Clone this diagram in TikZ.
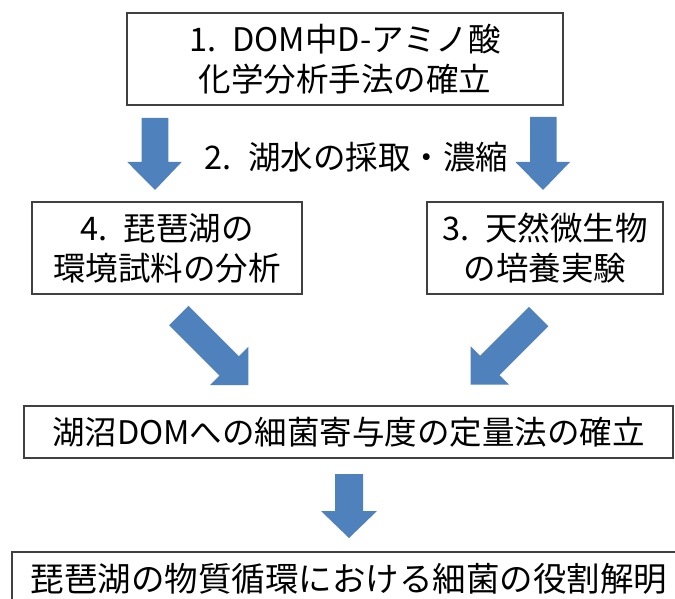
\documentclass[tikz,border=0pt]{standalone}
\usepackage{fontspec}
\newfontfamily\jpfont{Noto Sans CJK JP}
\definecolor{arrowblue}{HTML}{4F81BD}
\newcommand\gap{\hspace{0.5em}}
\begin{document}
\begin{tikzpicture}[x=1pt,y=-1pt,
  box/.style={draw=black!75, line width=1.2pt, fill=white, inner sep=0pt, align=center,
    font=\jpfont\fontsize{32.5}{40}\selectfont},
  plain/.style={inner sep=0pt, font=\jpfont\fontsize{32.5}{40}\selectfont},
  blockarrow/.style={fill=arrowblue}]
\useasboundingbox (0,0) rectangle (675,599);
\clip (0,0) rectangle (675,599);
\fill[white] (0,0) rectangle (675,599);

% boxes
\node[box, minimum width=436pt, minimum height=92pt] (method) at (345,59)
  {1.\gap DOM中D-アミノ酸\\化学分析手法の確立};
\node[plain] (sampling) at (356.5,157) {2.\gap 湖水の採取・濃縮};
\node[box, minimum width=270pt, minimum height=92pt] (field) at (167,248)
  {4.\gap 琵琶湖の\\環境試料の分析};
\node[box, minimum width=236pt, minimum height=92pt] (culture) at (545,248)
  {3.\gap 天然微生物\\の培養実験};
\node[box, minimum width=649pt, minimum height=52pt] (quant) at (348.5,432)
  {湖沼DOMへの細菌寄与度の定量法の確立};
\node[box, minimum width=674pt, minimum height=54pt,
  font=\jpfont\fontsize{33.5}{40}\selectfont] (role) at (349,579)
  {琵琶湖の物質循環における細菌の役割解明};

% block arrows
\fill[blockarrow] (141.7,118) -- (168.3,118) -- (168.3,162) -- (181.7,162)
  -- (155,190) -- (127.3,162) -- (141.7,162) -- cycle;
\fill[blockarrow] (530,117) -- (556.7,117) -- (556.7,162) -- (570,162)
  -- (543,190) -- (515.5,162) -- (530,162) -- cycle;
\fill[blockarrow] (188.5,305.8) -- (238.9,356.2) -- (248.3,346.8) -- (248.3,385)
  -- (210.1,385) -- (219.5,375.6) -- (169.1,325.2) -- cycle;
\fill[blockarrow] (548.4,326.2) -- (499.5,375.1) -- (508.9,384.5) -- (470.7,384.5)
  -- (470.7,346.3) -- (480.1,355.7) -- (529.0,306.8) -- cycle;
\fill[blockarrow] (335,474) -- (363,474) -- (363,511) -- (377,511)
  -- (349,538) -- (321,511) -- (335,511) -- cycle;
\end{tikzpicture}
\end{document}
